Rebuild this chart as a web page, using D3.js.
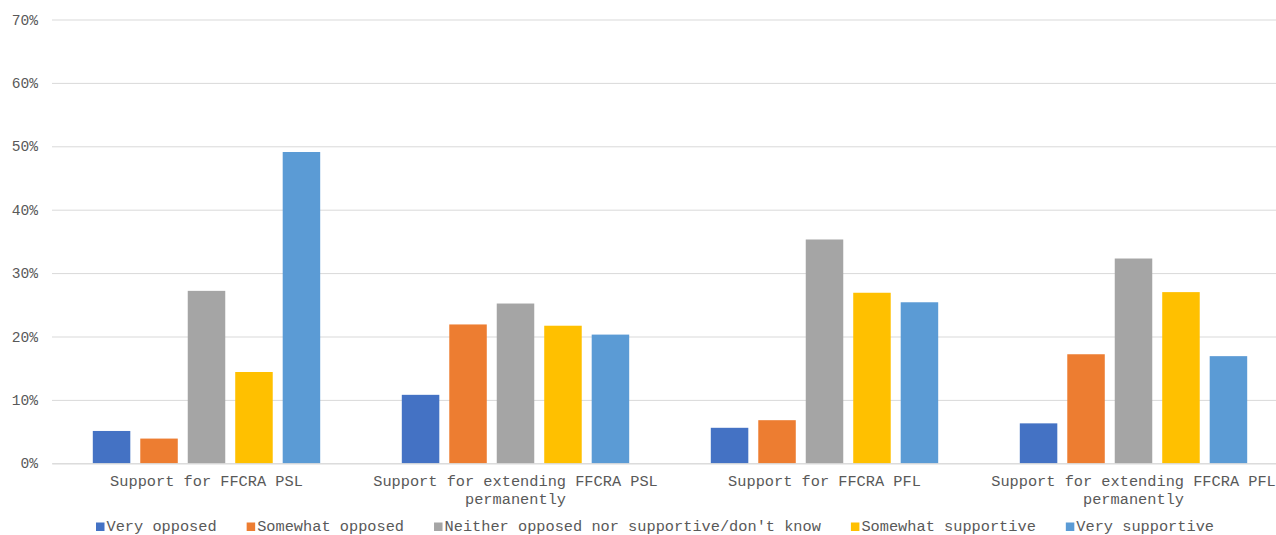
<!DOCTYPE html>
<html>
<head>
<meta charset="utf-8">
<script src="https://cdn.jsdelivr.net/npm/d3@7"></script>
<style>
  html, body { margin: 0; padding: 0; background: #fff; overflow: hidden; }
  svg { display: block; }
  text { font-family: "Liberation Mono", "Courier New", monospace; fill: #595959; }
</style>
</head>
<body>
<svg id="chart" width="1276" height="535"></svg>
<script>
// Survey categories (x axis groups)
const categories = [
  "Support for FFCRA PSL",
  "Support for extending FFCRA PSL permanently",
  "Support for FFCRA PFL",
  "Support for extending FFCRA PFL permanently"
];

// Response series names
const seriesNames = [
  "Very opposed",
  "Somewhat opposed",
  "Neither opposed nor supportive/don't know",
  "Somewhat supportive",
  "Very supportive"
];

// Share of respondents (%) per category, one array per response
const veryOpposed        = [5.1, 10.8, 5.6, 6.3];
const somewhatOpposed    = [3.9, 21.9, 6.8, 17.2];
const neitherDontKnow    = [27.2, 25.2, 35.3, 32.3];
const somewhatSupportive = [14.4, 21.7, 26.9, 27.0];
const verySupportive     = [49.1, 20.3, 25.4, 16.9];

// Y axis ticks
const yTicks = [0, 10, 20, 30, 40, 50, 60, 70];

const seriesValues = [veryOpposed, somewhatOpposed, neitherDontKnow, somewhatSupportive, verySupportive];
const colors = ["#4472C4", "#ED7D31", "#A5A5A5", "#FFC000", "#5B9BD5"];

const svg = d3.select("#chart");

const plotLeft = 52, plotRight = 1288, plotTop = 19.5, plotBottom = 463.3;

const y = d3.scaleLinear().domain([0, 70]).range([plotBottom, plotTop]);
const x0 = d3.scaleBand().domain(categories).range([plotLeft, plotRight]).paddingInner(0).paddingOuter(0);
const x1 = d3.scaleBand().domain(seriesNames).range([40.8, 268.2]).paddingInner(0.21).paddingOuter(0);
const color = d3.scaleOrdinal().domain(seriesNames).range(colors);

// Gridlines and tick labels
const yAxis = d3.axisLeft(y)
  .tickValues(yTicks)
  .tickSize(-(plotRight - plotLeft))
  .tickPadding(14)
  .tickFormat(d => d + "%");

const gy = svg.append("g")
  .attr("transform", `translate(${plotLeft},0)`)
  .call(yAxis);
gy.select(".domain").remove();
gy.selectAll(".tick line").attr("stroke", "#d9d9d9").attr("stroke-width", 1);
gy.selectAll(".tick text")
  .style("font-size", "14.6px")
  .attr("fill", "#6a6a6a");

// Bars
const groups = svg.append("g")
  .selectAll("g")
  .data(categories)
  .join("g")
  .attr("transform", d => `translate(${x0(d)},0)`);

groups.selectAll("rect")
  .data((d, ci) => seriesNames.map((s, si) => ({ series: s, value: seriesValues[si][ci] })))
  .join("rect")
  .attr("x", d => x1(d.series))
  .attr("width", x1.bandwidth())
  .attr("y", d => y(d.value))
  .attr("height", d => y(0) - y(d.value))
  .attr("fill", d => color(d.series));

// Category labels, wrapped to the band width
const xAxis = d3.axisBottom(x0).tickSize(0).tickPadding(0);
const gx = svg.append("g")
  .attr("transform", `translate(0,${plotBottom})`)
  .call(xAxis);
gx.select(".domain").attr("stroke", "#d9d9d9");
gx.selectAll(".tick text")
  .style("font-size", "15.3px")
  .attr("fill", "#595959")
  .attr("dy", null)
  .attr("y", 0)
  .each(function (d) {
    const t = d3.select(this);
    const words = d.split(" ");
    t.text(null);
    const lines = [];
    let line = [];
    const probe = t.append("tspan");
    words.forEach(w => {
      line.push(w);
      probe.text(line.join(" "));
      if (probe.node().getComputedTextLength() > 300 && line.length > 1) {
        line.pop();
        lines.push(line.join(" "));
        line = [w];
      }
    });
    lines.push(line.join(" "));
    probe.remove();
    lines.forEach((l, i) => {
      t.append("tspan")
        .attr("x", 0)
        .attr("y", 18.5 + i * 18)
        .attr("dominant-baseline", "central")
        .text(l);
    });
  });

// Legend
const legend = svg.append("g").attr("transform", "translate(96,527)");
let lx = 0;
seriesNames.forEach((s, i) => {
  const item = legend.append("g").attr("transform", `translate(${lx},0)`);
  item.append("rect")
    .attr("x", 0).attr("y", -4.5)
    .attr("width", 8.5).attr("height", 8.5)
    .attr("fill", colors[i]);
  const txt = item.append("text")
    .attr("x", 10.5).attr("y", 0)
    .attr("dominant-baseline", "central")
    .style("font-size", "15.3px")
    .text(s);
  lx += 10.5 + txt.node().getComputedTextLength() + 30;
});
</script>
</body>
</html>
